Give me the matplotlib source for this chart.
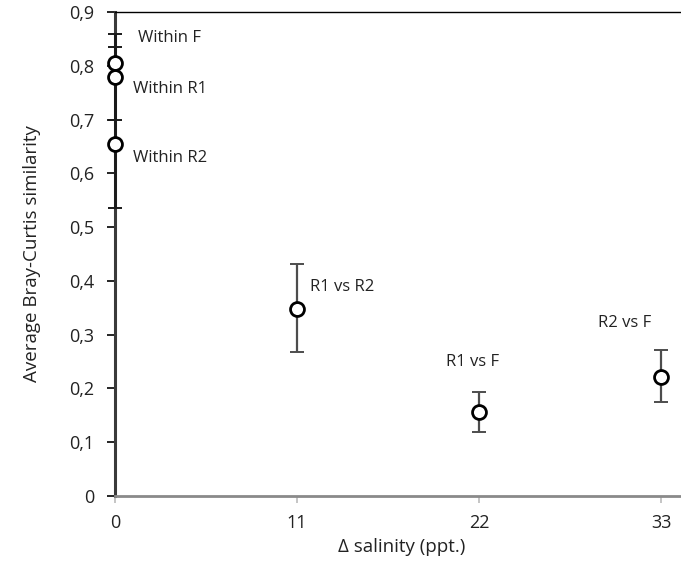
import matplotlib.pyplot as plt

# data
labels = ["Within F", "Within R1", "Within R2", "R1 vs R2", "R1 vs F", "R2 vs F"]
salinity = [0, 0, 0, 11, 22, 33]
similarity = [0.805, 0.780, 0.655, 0.348, 0.157, 0.221]
err_low = [0.030, 0.080, 0.120, 0.080, 0.038, 0.047]
err_high = [0.030, 0.080, 0.120, 0.084, 0.037, 0.051]

# label anchor offsets (data units)
label_dx = [1.4, 1.1, 1.1, 0.8, -2.0, -3.8]
label_dy = [0.046, -0.024, -0.026, 0.040, 0.093, 0.100]

plt.rcParams["font.family"] = ["Open Sans", "DejaVu Sans"]

fig = plt.figure(figsize=(6.81, 5.79), dpi=100)
ax = fig.add_axes([115 / 681, 1 - 496 / 579, 1 - 115 / 681 + 0.01, (496 - 12) / 579])

# error bars at x=0 sit on the axis line and look black there
bar_colors = ["#1a1a1a" if x == 0 else "#4d4d4d" for x in salinity]
for x, y, lo, hi, c in zip(salinity, similarity, err_low, err_high, bar_colors):
    ax.errorbar([x], [y], yerr=[[lo], [hi]], fmt="none", ecolor=c,
                elinewidth=2.0 if x == 0 else 1.6, capsize=5, capthick=1.4,
                zorder=3, clip_on=False)
ax.plot(salinity, similarity, "o", ms=10, mfc="white", mec="black", mew=2,
        zorder=4, clip_on=False)

for lab, x, y, dx, dy in zip(labels, salinity, similarity, label_dx, label_dy):
    ax.text(x + dx, y + dy, lab, fontsize=12, color="#222222",
            ha="left", va="center")

ax.set_xlim(0, 34.6)
ax.set_ylim(0, 0.9)
ax.set_xticks([0, 11, 22, 33])
ax.set_yticks([i / 10 for i in range(10)])
ax.set_yticklabels(["0"] + [f"0,{i}" for i in range(1, 10)])

ax.spines["right"].set_visible(False)
ax.spines["top"].set_color("black")
ax.spines["top"].set_linewidth(1.0)
ax.spines["left"].set_color("#3a3a3a")
ax.spines["left"].set_linewidth(2.2)
ax.spines["bottom"].set_color("#8a8a8a")
ax.spines["bottom"].set_linewidth(2.0)

ax.tick_params(axis="y", direction="out", length=6, width=1.2, color="black",
               labelsize=13, labelcolor="#222222", pad=9)
ax.tick_params(axis="x", direction="out", length=5, width=1.2, color="#bbbbbb",
               labelsize=13, labelcolor="#222222", pad=8)

ax.set_ylabel("Average Bray-Curtis similarity", fontsize=13.5, color="#222222",
              labelpad=20)
ax.set_xlabel("Δ salinity (ppt.)", fontsize=13.5, color="#222222", labelpad=4)

fig.savefig("out.png", dpi=100)
